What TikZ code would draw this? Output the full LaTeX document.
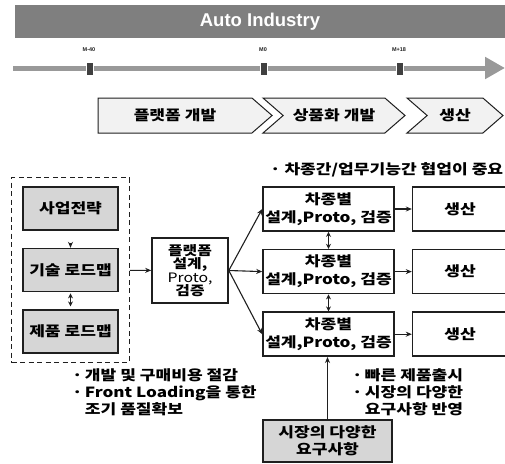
\documentclass[tikz,border=0pt]{standalone}
\usepackage{fontspec}
\setmainfont{Noto Sans CJK KR}[FakeStretch=1.22]
\newfontfamily\latinsans{Liberation Sans}
\usepackage{tikz}
\usetikzlibrary{arrows.meta,positioning,fit,shapes.symbols}
\definecolor{ink}{HTML}{1F1F1F}
\definecolor{titlegray}{HTML}{7F7F7F}
\definecolor{linegray}{HTML}{999999}
\definecolor{tickink}{HTML}{404040}
\definecolor{phasefill}{HTML}{F2F2F2}
\definecolor{boxgray}{HTML}{D6D6D6}
\newcommand\kfont{\bfseries\fontsize{14}{18}\selectfont}
\tikzset{
  titlebar/.style={fill=titlegray,text=white,font=\latinsans\bfseries\fontsize{18.5}{20}\selectfont,minimum width=490pt,minimum height=33pt,inner sep=0pt},
  mstone/.style={fill=tickink,draw=white,line width=0.8pt,minimum width=7pt,minimum height=13pt,inner sep=0pt},
  mlbl/.style={font=\latinsans\bfseries\fontsize{5.5}{6}\selectfont,text=ink,inner sep=0pt},
  phase/.style={signal,signal to=east,signal pointer angle=82,draw=ink,line width=1pt,fill=phasefill,minimum height=35pt,inner sep=0pt,font=\kfont},
  strat/.style={draw=ink,line width=1.6pt,fill=boxgray,minimum width=95pt,minimum height=43pt,inner sep=1pt,align=center,font=\kfont},
  box/.style={draw=ink,line width=1.6pt,fill=white,align=center,inner sep=1pt,font=\kfont},
  group/.style={draw=ink,line width=1.3pt,dashed,dash pattern=on 5pt off 3.5pt,inner xsep=10.5pt,inner ysep=8.5pt},
  flow/.style={-{Stealth[length=6pt,width=5pt]},line width=1.1pt,draw=ink},
  bflow/.style={{Stealth[length=5pt,width=5pt]}-{Stealth[length=5pt,width=5pt]},line width=1.1pt,draw=ink},
  note/.style={inner sep=0pt,font=\kfont\fontsize{14}{17}\selectfont}
}
\begin{document}
\begin{tikzpicture}[x=1pt,y=-1pt,node distance=17pt]
  \useasboundingbox (0,0) rectangle (505,463);
  % title and time axis
  \node[titlebar] (title) at (260,21.5) {Auto Industry};
  \coordinate (t0) at (13,68);
  \coordinate (t1) at (505,68);
  \draw[linegray,line width=5pt,-{Triangle[length=20pt,width=21pt]}] (t0) -- (t1);
  \node[mstone] (m1) at (89.5,68.5) {};
  \node[mstone] (m2) at (263.5,68.5) {};
  \node[mstone] (m3) at (400,68.5) {};
  \node[mlbl] at (89,50) {M-40};
  \node[mlbl] at (263,50) {M0};
  \node[mlbl] at (399,50) {M+18};

  % phases
  \node[phase,minimum width=174pt] (ph1) at (175,115.5) {플랫폼 개발};
  \node[phase,signal from=west,minimum width=142pt] (ph2) at (334,115.5) {상품화 개발};
  \node[phase,signal from=west,minimum width=96pt] (ph3) at (455,115.5) {생산};
  \node[note,anchor=west] (coop) at (270,170) {· 차종간/업무기능간 협업이 중요};

  % strategy side
  \node[strat] (s1) at (70.5,208.5) {사업전략};
  \node[strat, below=of s1] (s2) {기술 로드맵};
  \node[strat, below=of s2] (s3) {제품 로드맵};
  \node[group, fit=(s1)(s3)] (grp) {};
  \draw[flow,shorten <=12pt] (s1) -- (s2);
  \draw[bflow,shorten <=1pt,shorten >=3pt] (s2) -- (s3);

  \node[box,minimum width=76pt,minimum height=65pt,font=\bfseries\fontsize{13}{13.5}\selectfont] (plat) at (190,270.5) {플랫폼\\설계,\\{\mdseries Proto,}\\검증};
  \draw[flow] (grp) -- (plat);

  % car lines
  \node[box,minimum width=131pt,minimum height=44pt] (cA) at (328.5,209) {차종별\\설계,Proto, 검증};
  \node[box,minimum width=131pt,minimum height=44pt, below=of cA] (cB) {차종별\\설계,Proto, 검증};
  \node[box,minimum width=131pt,minimum height=44pt, below=of cB] (cC) {차종별\\설계,Proto, 검증};
  \foreach \c in {cA,cB,cC} \draw[flow] (plat.east) -- (\c.west);
  \draw[bflow] (cA) -- (cB);
  \draw[bflow] (cB) -- (cC);

  \node[box,minimum width=95pt,minimum height=44pt, right=of cA] (pA) {생산};
  \node[box,minimum width=95pt,minimum height=44pt, right=of cB] (pB) {생산};
  \node[box,minimum width=95pt,minimum height=44pt, right=of cC] (pC) {생산};
  \foreach \a/\b in {cA/pA,cB/pB,cC/pC} \draw[flow] (\a) -- (\b);

  % market needs
  \node[strat,minimum width=129pt,minimum height=42pt,font=\bfseries\fontsize{14}{17}\selectfont] (mkt) at (327.5,441) {시장의 다양한\\요구사항};
  \draw[flow] (mkt.north) -- (mkt.north |- cC.south);

  \node[note,anchor=west] (gain) at (72,394.5) {\begin{tabular}{@{}l@{\,}l@{}}·&개발 및 구매비용 절감\\·&Front Loading을 통한\\&조기 품질확보\end{tabular}};
  \node[note,anchor=west] (fast) at (352,394.5) {\begin{tabular}{@{}l@{\,}l@{}}·&빠른 제품출시\\·&시장의 다양한\\&요구사항 반영\end{tabular}};
\end{tikzpicture}
\end{document}
